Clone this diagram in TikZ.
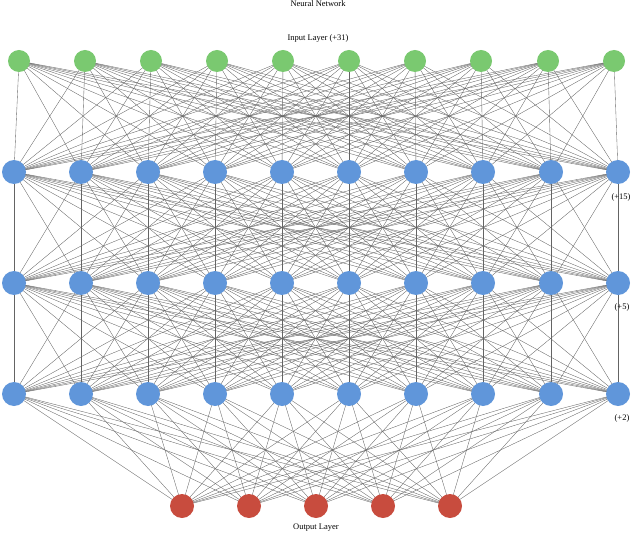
\documentclass[tikz,border=0pt]{standalone}
\usepackage{fontspec}
\setmainfont{Liberation Serif}
\definecolor{ingreen}{RGB}{122,201,112}
\definecolor{hidblue}{RGB}{96,150,218}
\definecolor{outred}{RGB}{200,76,62}
\definecolor{edgegray}{RGB}{100,100,100}
\begin{document}
\begin{tikzpicture}[x=1pt,y=-1pt,
  inode/.style={circle,fill=ingreen,minimum size=22pt,inner sep=0pt},
  hnode/.style={circle,fill=hidblue,minimum size=24pt,inner sep=0pt},
  onode/.style={circle,fill=outred,minimum size=24pt,inner sep=0pt},
  edge/.style={draw=edgegray,line width=0.35pt},
  lbl/.style={font=\fontsize{8.5}{9.5}\selectfont,inner sep=0pt}]
\useasboundingbox (0,0) rectangle (636,534);
% nodes positions
\foreach \i/\x in {1/19,2/85,3/151,4/217,5/283,6/349,7/415,8/481,9/548,10/614}
  \coordinate (i\i) at (\x,61);
\foreach \l/\y in {1/172,2/283,3/394}
  \foreach \i/\x in {1/14,2/81,3/148,4/215,5/282,6/349,7/416,8/483,9/551,10/618}
    \coordinate (h\l-\i) at (\x,\y);
\foreach \i/\x in {1/182,2/249,3/316,4/383,5/450}
  \coordinate (o\i) at (\x,506);
% edges
\foreach \a in {1,...,10}
  \foreach \b in {1,...,10}
    \draw[edge] (i\a) -- (h1-\b);
\foreach \a in {1,...,10}
  \foreach \b in {1,...,10}{
    \draw[edge] (h1-\a) -- (h2-\b);
    \draw[edge] (h2-\a) -- (h3-\b);}
\foreach \a in {1,...,10}
  \foreach \b in {1,...,5}
    \draw[edge] (h3-\a) -- (o\b);
% node discs
\foreach \i in {1,...,10}
  \node[inode] (ni\i) at (i\i) {};
\foreach \l in {1,2,3}
  \foreach \i in {1,...,10}
    \node[hnode] (nh\l-\i) at (h\l-\i) {};
\foreach \i in {1,...,5}
  \node[onode] (no\i) at (o\i) {};
% labels
\node[lbl] (title) at (318,4) {Neural Network};
\node[lbl] (inlbl) at (318,38) {Input Layer (+31)};
\node[lbl] (l1) at (621,197) {(+15)};
\node[lbl] (l2) at (622,307) {(+5)};
\node[lbl] (l3) at (622,418) {(+2)};
\node[lbl] (outlbl) at (316,528) {Output Layer};
\end{tikzpicture}
\end{document}
